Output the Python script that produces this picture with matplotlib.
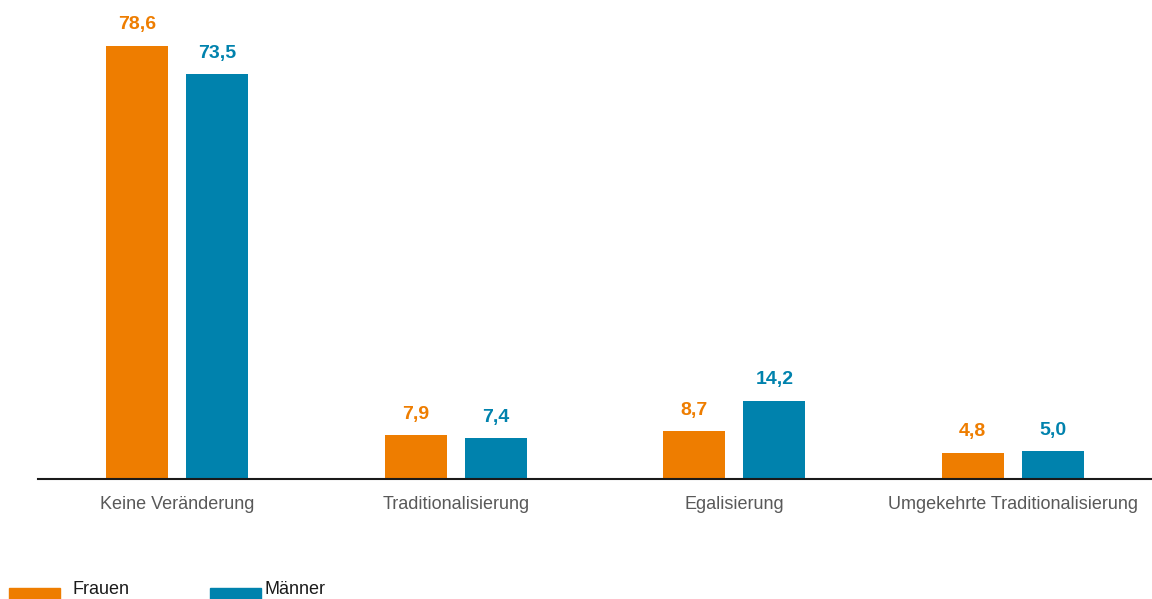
import matplotlib
matplotlib.use("Agg")
import matplotlib.pyplot as plt
from matplotlib import font_manager
import numpy as np

categories = ["Keine Veränderung", "Traditionalisierung", "Egalisierung", "Umgekehrte Traditionalisierung"]
frauen = [78.6, 7.9, 8.7, 4.8]
maenner = [73.5, 7.4, 14.2, 5.0]
series_names = ["Frauen", "Männer"]
colors = ["#EE7D00", "#0082AD"]

names = {f.name for f in font_manager.fontManager.ttflist}
fam = [n for n in ["Liberation Sans Narrow", "Liberation Sans", "DejaVu Sans"] if n in names]
plt.rcParams['font.family'] = fam

W, H = 1152, 599
fig = plt.figure(figsize=(W / 100, H / 100), dpi=100)
ax = fig.add_axes([38 / W, (H - 479) / H, (1152 - 38) / W, 479 / H])

x = np.arange(len(categories))
bw = 0.2226
off = 0.144
for vals, sign, col in [(frauen, -1, colors[0]), (maenner, 1, colors[1])]:
    ax.bar(x + sign * off, vals, width=bw, color=col)
    for xi, v in zip(x, vals):
        ax.annotate(f"{v:.1f}".replace(".", ","), (xi + sign * off, v), xytext=(0, 9),
                    textcoords="offset points", ha="center", va="bottom",
                    fontsize=14, fontweight="bold", color=col)

ax.set_xlim(-0.5, 3.5)
ax.set_ylim(0, 479 / 5.51)
for s in ["top", "right", "left"]:
    ax.spines[s].set_visible(False)
ax.spines["bottom"].set_linewidth(1.5)
ax.spines["bottom"].set_color("#1a1a1a")
ax.set_yticks([])
ax.set_xticks(x)
ax.set_xticklabels(categories, fontsize=13, color="#595959")
ax.tick_params(axis="x", length=0, pad=12)

# legend
for px, tx, name, col in [(9, 73, series_names[0], colors[0]), (210, 265, series_names[1], colors[1])]:
    fig.patches.append(plt.Rectangle((px / W, 0), 51 / W, 11 / H, transform=fig.transFigure,
                                     color=col, figure=fig))
    fig.text(tx / W, 1 / H, name, fontsize=13, color="#1a1a1a",
             ha="left", va="bottom")

fig.savefig("out.png", dpi=100)
